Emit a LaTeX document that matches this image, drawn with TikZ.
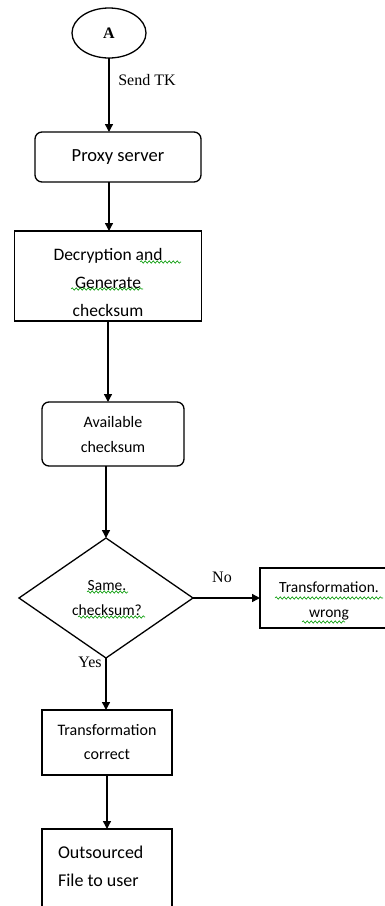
\documentclass[tikz,border=0pt]{standalone}
\usepackage{fontspec}
\setmainfont{Liberation Serif}
\newfontfamily\boxfont{Carlito}
\usetikzlibrary{arrows.meta,shapes.geometric,decorations.pathmorphing}
\begin{document}
\begin{tikzpicture}[x=1pt,y=-1pt,
  every node/.style={inner sep=0pt, outer sep=0pt},
  frame/.style={draw, line width=1.3pt},
  rbox/.style={frame, rounded corners=7pt},
  lbl/.style={font=\fontsize{16}{18}\selectfont},
  btxt/.style={font=\boxfont\fontsize{17}{26}\selectfont, align=center},
  conn/.style={line width=1.4pt, -{Triangle[length=8pt,width=8pt]}},
  squig/.style={draw=green!60!black, line width=0.6pt, decorate,
    decoration={snake, amplitude=1.2pt, segment length=4pt}}]
\useasboundingbox (0,0) rectangle (384,906);

\node[frame, ellipse, minimum width=74pt, minimum height=50pt, font=\bfseries\fontsize{16}{18}\selectfont] (A) at (109,33) {A};
\node[rbox, minimum width=166pt, minimum height=50pt, btxt, font=\boxfont\fontsize{18.5}{26}\selectfont] (proxy) at (118,157) {Proxy server};
\node[frame, minimum width=187pt, minimum height=90pt] (dec) at (108,276) {};
\node[btxt, font=\boxfont\fontsize{17.5}{28}\selectfont] (dectext) at (108,282) {Decryption  and\\Generate\\checksum};
\node[rbox, minimum width=142pt, minimum height=64pt, btxt, font=\boxfont\fontsize{16}{25}\selectfont] (avail) at (113,434) {Available\\checksum};
\node[frame, diamond, minimum width=174pt, minimum height=120pt] (dia) at (106,598) {};
\node[btxt, font=\boxfont\fontsize{15.5}{25}\selectfont] (diatext) at (107,598) {Same.\\checksum?};
\node[frame, minimum width=140pt, minimum height=60pt] (wrong) at (330,598) {};
\node[btxt, font=\boxfont\fontsize{15.5}{25}\selectfont] (wrongtext) at (329,601) {Transformation.\\wrong};
\node[frame, minimum width=130pt, minimum height=65pt, btxt, font=\boxfont\fontsize{16}{24}\selectfont] (correct) at (107,742.5) {Transformation\\correct};
\node[frame, minimum width=130pt, minimum height=83pt] (out) at (107,870.5) {};
\node[font=\boxfont\fontsize{18}{28}\selectfont, align=left, anchor=west] (outtext) at (58,866) {Outsourced\\File to user};

\node[lbl] (sendtk) at (147,80) {Send TK};
\node[lbl] (no) at (222,577) {No};
\node[lbl] (yes) at (90,662) {Yes};

\draw[conn] (A.south) -- (A.south |- proxy.north);
\draw[conn] (A.south |- proxy.south) -- (A.south |- dec.north);
\draw[conn] (dec.south) -- (dec.south |- avail.north);
\draw[conn] (dia.north |- avail.south) -- (dia.north);
\draw[conn] (dia.east) -- (wrong.west);
\draw[conn] (dia.south) -- (dia.south |- correct.north);
\draw[conn] (correct.south) -- (correct.south |- out.north);

\draw[squig] (140,262) -- (181,262);
\draw[squig] (71,289) -- (143,289);
\draw[squig] (87,592) -- (128,592);
\draw[squig] (78,617) -- (145,617);
\draw[squig] (275,598) -- (383,598);
\draw[squig] (302,622) -- (345,622);
\end{tikzpicture}
\end{document}
